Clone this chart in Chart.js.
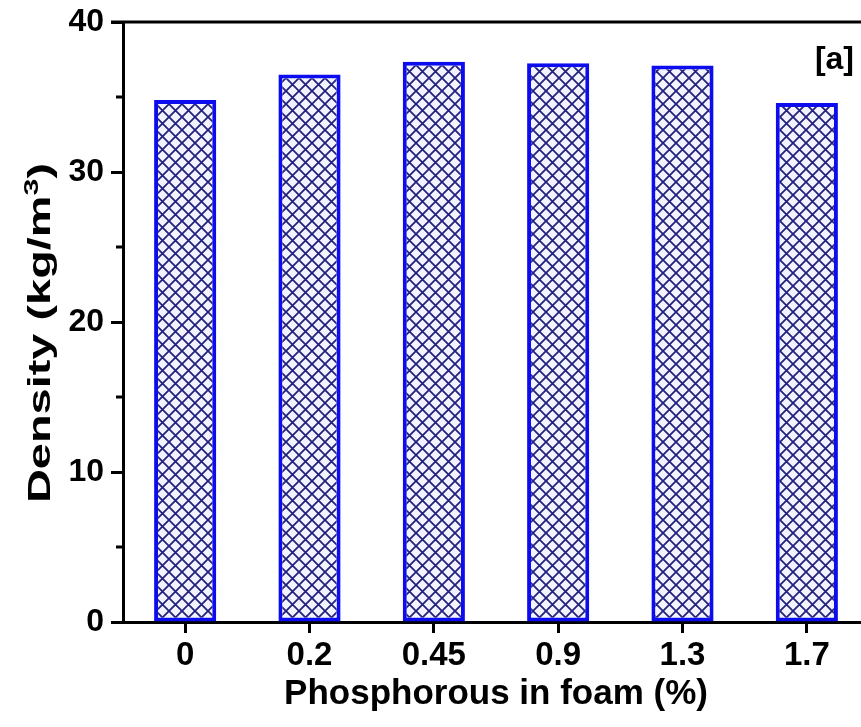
<!DOCTYPE html>
<html>
<head>
<meta charset="utf-8">
<script src="https://cdn.jsdelivr.net/npm/chart.js@4.4.1/dist/chart.umd.min.js"></script>
<style>
  html, body { margin: 0; padding: 0; background: #fff; overflow: hidden; }
  #wrap { position: relative; width: 872px; height: 727px; }
</style>
</head>
<body>
<div id="wrap"><canvas id="densityChart"></canvas></div>
<script>
// Datos: contenido de fósforo y densidad de la espuma
const phosphorus = ['0', '0.2', '0.45', '0.9', '1.3', '1.7'];
const density = [34.8, 36.5, 37.35, 37.25, 37.1, 34.6];
const yTicks = [0, 10, 20, 30, 40];
const yMinorTicks = [5, 15, 25, 35];

const FONT = '"Liberation Sans", Arial, sans-serif';

// Patrón de rayado cruzado para las barras
function crossHatch() {
    const size = 13;
    const c = document.createElement('canvas');
    c.width = size;
    c.height = size;
    const g = c.getContext('2d');
    g.fillStyle = '#f3f3ff';
    g.fillRect(0, 0, size, size);
    g.strokeStyle = '#22227e';
    g.lineWidth = 1.8;
    g.beginPath();
    g.moveTo(-1, -1); g.lineTo(size + 1, size + 1);
    g.moveTo(size + 1, -1); g.lineTo(-1, size + 1);
    g.stroke();
    return g.createPattern(c, 'repeat');
}

// Título del eje Y con superíndice, estirado a lo largo del eje
function drawYTitle(ctx, cx, cy, length) {
    const big = 'bold 31px ' + FONT;
    const small = 'bold 20px ' + FONT;
    const head = 'Density (kg/m';
    ctx.font = big;
    const wHead = ctx.measureText(head).width;
    const wTail = ctx.measureText(')').width;
    ctx.font = small;
    const wSup = ctx.measureText('3').width;
    const total = wHead + wSup + wTail;
    ctx.save();
    ctx.translate(cx, cy);
    ctx.rotate(-Math.PI / 2);
    ctx.scale(length / total, 1);
    ctx.fillStyle = '#000';
    ctx.textAlign = 'left';
    ctx.textBaseline = 'alphabetic';
    let x = -total / 2;
    ctx.font = big;
    ctx.fillText(head, x, 0);
    x += wHead;
    ctx.font = small;
    ctx.fillText('3', x, -12);
    x += wSup;
    ctx.font = big;
    ctx.fillText(')', x, 0);
    ctx.restore();
}

// Ejes: línea superior, marcas menores, título Y y etiqueta [a]
const framePlugin = {
    id: 'frame',
    afterDraw(chart) {
        const ctx = chart.ctx;
        const area = chart.chartArea;
        const y = chart.scales.y;
        ctx.save();
        ctx.strokeStyle = '#000';
        ctx.lineWidth = 3;
        ctx.beginPath();
        ctx.moveTo(area.left - 12, area.top);
        ctx.lineTo(chart.width, area.top);
        ctx.stroke();
        ctx.beginPath();
        yMinorTicks.forEach(v => {
            const py = y.getPixelForValue(v);
            ctx.moveTo(area.left - 7, py);
            ctx.lineTo(area.left, py);
        });
        ctx.stroke();
        ctx.fillStyle = '#000';
        ctx.font = 'bold 32px ' + FONT;
        ctx.textAlign = 'right';
        ctx.textBaseline = 'middle';
        ctx.fillText('[a]', 854, 60);
        ctx.restore();
        drawYTitle(ctx, 50, 333, 340);
    }
};

const ctx = document.getElementById('densityChart').getContext('2d');
new Chart(ctx, {
    type: 'bar',
    data: {
        labels: phosphorus,
        datasets: [{
            data: density,
            backgroundColor: crossHatch(),
            borderColor: '#0c0cee',
            borderWidth: 4,
            borderSkipped: false,
            barPercentage: 0.5,
            categoryPercentage: 1.0
        }]
    },
    options: {
        responsive: true,
        maintainAspectRatio: false,
        animation: false,
        layout: { padding: { top: 22, right: 3, left: 0, bottom: 0 } },
        plugins: {
            legend: { display: false },
            tooltip: { enabled: false }
        },
        scales: {
            x: {
                afterFit(scale) { scale.height = 105; },
                border: { display: true, color: '#000', width: 3 },
                grid: {
                    display: true,
                    drawOnChartArea: false,
                    drawTicks: true,
                    tickLength: 11,
                    tickWidth: 3,
                    tickColor: '#000',
                    offset: false
                },
                ticks: {
                    color: '#000',
                    font: { family: FONT, size: 33, weight: 'bold' },
                    padding: 3,
                    maxRotation: 0
                },
                title: {
                    display: true,
                    text: 'Phosphorous in foam (%)',
                    color: '#000',
                    font: { family: FONT, size: 35, weight: 'bold' },
                    padding: { top: 0, bottom: 12 }
                }
            },
            y: {
                min: 0,
                max: 40,
                afterFit(scale) {
                    scale.width = 123;
                    scale.paddingTop = 0;
                    scale.paddingBottom = 0;
                },
                afterBuildTicks(scale) {
                    scale.ticks = yTicks.map(v => ({ value: v }));
                },
                border: { display: true, color: '#000', width: 3 },
                grid: {
                    display: true,
                    drawOnChartArea: false,
                    drawTicks: true,
                    tickLength: 12,
                    tickWidth: 3,
                    tickColor: '#000'
                },
                ticks: {
                    color: '#000',
                    font: { family: FONT, size: 32, weight: 'bold' },
                    padding: 7
                },
                title: { display: false }
            }
        }
    },
    plugins: [framePlugin]
});
</script>
</body>
</html>
